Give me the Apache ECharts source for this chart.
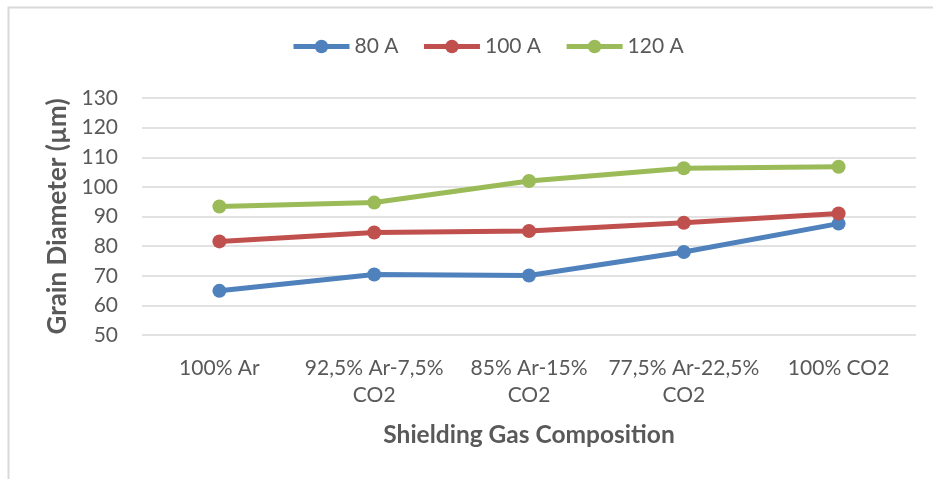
<!DOCTYPE html>
<html>
<head>
<meta charset="utf-8">
<title>Grain Diameter vs Shielding Gas Composition</title>
<script src="https://cdn.jsdelivr.net/npm/echarts@6/dist/echarts.min.js"></script>
<style>
  html, body { margin: 0; padding: 0; background: #ffffff; }
  #chart { width: 933px; height: 479px; }
</style>
</head>
<body>
<div id="chart"></div>
<script>
// Shielding gas mixtures on the x axis
const categories = [
  '100% Ar',
  '92,5% Ar-7,5%\nCO2',
  '85% Ar-15%\nCO2',
  '77,5% Ar-22,5%\nCO2',
  '100% CO2'
];

// Grain diameter (µm) for each welding current
const current80 = [64.9, 70.4, 70.1, 78.0, 87.6];
const current100 = [81.6, 84.6, 85.1, 87.9, 91.0];
const current120 = [93.4, 94.7, 102.0, 106.3, 106.8];

const seriesNames = ['80 A', '100 A', '120 A'];
const seriesColors = ['#4F81BD', '#C0504D', '#9BBB59'];

const yMin = 50, yMax = 130, yStep = 10;

const FONT = 'Lato, "Open Sans", "Liberation Sans", sans-serif';
const TEXT = '#595959';

const chart = echarts.init(document.getElementById('chart'), null, { renderer: 'canvas' });

function lineSeries(name, data, color) {
  return {
    name: name,
    type: 'line',
    data: data,
    symbol: 'circle',
    symbolSize: 14,
    lineStyle: { width: 5, color: color },
    itemStyle: { color: color },
    emphasis: { disabled: true },
    z: 3
  };
}

chart.setOption({
  animation: false,
  backgroundColor: '#ffffff',
  textStyle: { fontFamily: FONT },
  graphic: [
    {
      type: 'polyline',
      shape: { points: [[8.5, 479], [8.5, 7.5], [933, 7.5]] },
      style: { stroke: '#D9D9D9', lineWidth: 2, fill: null },
      silent: true
    }
  ],
  legend: {
    top: 31,
    left: 286,
    itemWidth: 56,
    itemHeight: 17,
    itemGap: 23,
    lineStyle: { width: 5 },
    textStyle: { color: TEXT, fontSize: 21, fontFamily: FONT },
    data: seriesNames
  },
  grid: {
    left: 142,
    right: 17,
    top: 98,
    bottom: 144,
    containLabel: false
  },
  xAxis: {
    type: 'category',
    data: categories,
    boundaryGap: true,
    axisLine: { show: false },
    axisTick: { show: false },
    axisLabel: {
      color: TEXT,
      fontSize: 21,
      fontFamily: FONT,
      lineHeight: 27,
      margin: 20,
      interval: 0
    },
    name: 'Shielding Gas Composition',
    nameLocation: 'middle',
    nameGap: 88,
    nameTextStyle: { color: TEXT, fontSize: 24.5, fontWeight: 'bold', fontFamily: FONT }
  },
  yAxis: {
    type: 'value',
    min: yMin,
    max: yMax,
    interval: yStep,
    axisLine: { show: false },
    axisTick: { show: false },
    splitLine: { lineStyle: { color: '#D9D9D9', width: 1.5 } },
    axisLabel: {
      color: TEXT,
      fontSize: 21,
      fontFamily: FONT,
      margin: 24
    },
    name: 'Grain Diameter (µm)',
    nameLocation: 'middle',
    nameRotate: 90,
    nameGap: 67,
    nameTextStyle: { color: TEXT, fontSize: 26, fontWeight: 'bold', fontFamily: FONT }
  },
  series: [
    lineSeries(seriesNames[0], current80, seriesColors[0]),
    lineSeries(seriesNames[1], current100, seriesColors[1]),
    lineSeries(seriesNames[2], current120, seriesColors[2])
  ]
});
</script>
</body>
</html>
